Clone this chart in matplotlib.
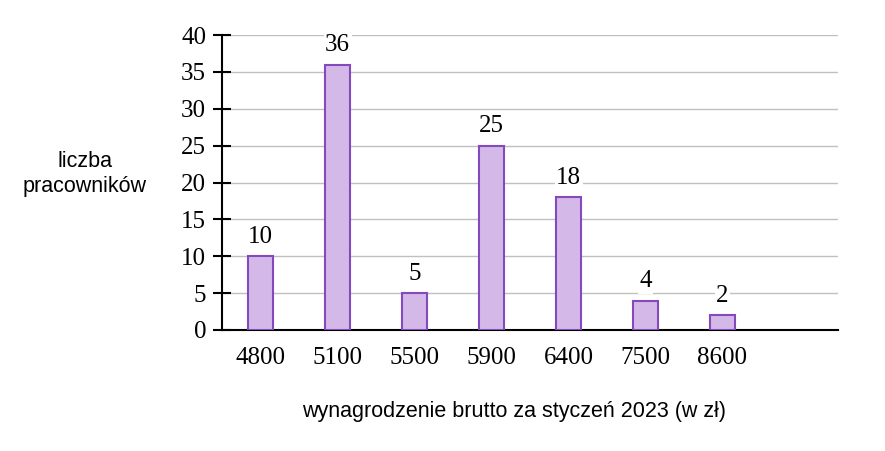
import matplotlib
matplotlib.use("Agg")
import matplotlib.pyplot as plt

categories = ["4800", "5100", "5500", "5900", "6400", "7500", "8600"]
values = [10, 36, 5, 25, 18, 4, 2]
yticks = [0, 5, 10, 15, 20, 25, 30, 35, 40]

fig = plt.figure(figsize=(8.85, 4.51), dpi=100)
ax = fig.add_axes([222/885, 1-330/451, (838-222)/885, (330-35)/451])

x = list(range(len(categories)))
ax.bar(x, values, width=0.33, color="#D4B9E8", edgecolor="#8449BC", linewidth=1.5, zorder=3)
ax.set_xlim(-0.5, len(categories) + 0.5)
ax.set_ylim(0, 40)
ax.set_yticks(yticks)
ax.set_xticks(x)
ax.set_xticklabels(categories)
ax.yaxis.grid(True, color="#C0C0C0", linewidth=1.0, zorder=0)
ax.set_axisbelow(True)
for s in ["top", "right"]:
    ax.spines[s].set_visible(False)
ax.spines["left"].set_linewidth(1.5)
ax.spines["bottom"].set_linewidth(1.5)
ax.tick_params(axis="y", direction="inout", length=13, width=1.5, pad=5,
               labelsize=18, labelfontfamily="Liberation Serif")
ax.tick_params(axis="x", length=0, pad=12, labelsize=18, labelfontfamily="Liberation Serif")

for xi, v in zip(x, values):
    ax.annotate(str(v), (xi, v), xytext=(0, 6), textcoords="offset points",
                ha="center", va="bottom", fontsize=18, family="Liberation Serif",
                bbox=dict(facecolor="white", edgecolor="none", pad=1), zorder=4)

fig.text(85/885, 1-174/451, "liczba\npracowników", ha="center", va="center",
         fontsize=15.5, family="Liberation Sans", linespacing=1.2)
fig.text(514/885, 1-412/451, "wynagrodzenie brutto za styczeń 2023 (w zł)", ha="center",
         va="center", fontsize=15.5, family="Liberation Sans")

fig.savefig("out.png", dpi=100)
